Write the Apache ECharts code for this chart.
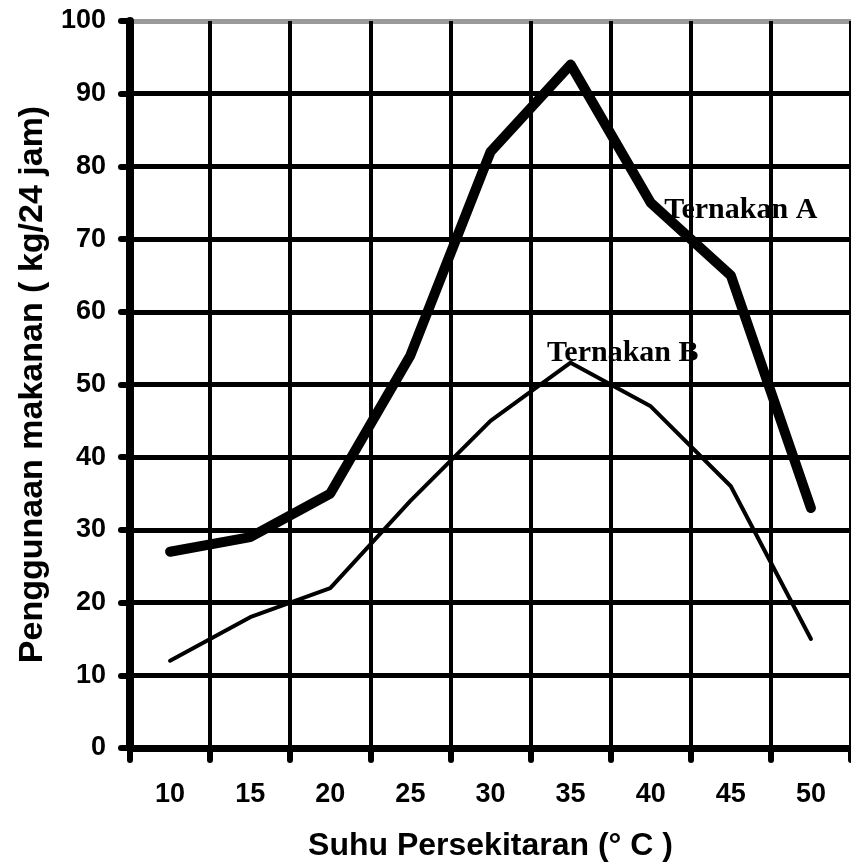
<!DOCTYPE html>
<html><head><meta charset="utf-8">
<script src="https://cdn.jsdelivr.net/npm/echarts@6/dist/echarts.min.js"></script>
<style>html,body{margin:0;padding:0;background:#fff}#c{width:851px;height:867px}</style>
</head><body><div id="c"></div>
<script>
const categories = ['10','15','20','25','30','35','40','45','50'];
const ternakanA = [27, 29, 35, 54, 82, 94, 75, 65, 33];
const ternakanB = [12, 18, 22, 34, 45, 53, 47, 36, 15];
const yTicks = [0,10,20,30,40,50,60,70,80,90,100];
const xTitle = 'Suhu Persekitaran (° C )';
const yTitle = 'Penggunaan makanan ( kg/24 jam)';
const labelA = 'Ternakan A', labelAIndex = 6;
const labelB = 'Ternakan B', labelBIndex = 5;

const labelFont = {fontFamily:'Liberation Serif', fontWeight:'bold', fontSize:30, color:'#000'};
function withLabel(arr, idx, text, lab){
  return arr.map((v,i)=> i===idx ? {value:v, label:Object.assign({show:true, formatter:text}, labelFont, lab)} : v);
}
const splitColors = yTicks.map(t => t===100 ? '#9a9a9a' : '#000');

const chart = echarts.init(document.getElementById('c'));
chart.setOption({
  animation:false,
  grid:{left:130, top:21, width:724, height:731},
  xAxis:{
    type:'category', data:categories, boundaryGap:true,
    axisLine:{lineStyle:{color:'#000', width:7}},
    axisTick:{show:true, length:12, lineStyle:{color:'#000', width:6, cap:'round'}},
    axisLabel:{margin:33, fontFamily:'Liberation Sans', fontWeight:'bold', fontSize:27, color:'#000'},
    splitLine:{show:true, lineStyle:{color:'#000', width:4}},
    name:xTitle, nameLocation:'middle', nameGap:82,
    nameTextStyle:{fontFamily:'Liberation Sans', fontWeight:'bold', fontSize:32, color:'#000'}
  },
  yAxis:{
    type:'value', min:0, max:100, interval:10,
    axisLine:{show:true, lineStyle:{color:'#000', width:8}},
    axisTick:{show:true, length:9, lineStyle:{color:'#000', width:6, cap:'round'}},
    axisLabel:{margin:24, fontFamily:'Liberation Sans', fontWeight:'bold', fontSize:27, color:'#000'},
    splitLine:{show:true, lineStyle:{color:splitColors, width:5}},
    name:yTitle, nameLocation:'middle', nameGap:80,
    nameTextStyle:{fontFamily:'Liberation Sans', fontWeight:'bold', fontSize:34, color:'#000'}
  },
  series:[
    {type:'line', data:withLabel(ternakanA, labelAIndex, labelA, {position:'right', distance:13, offset:[0,7]}),
     symbol:'circle', symbolSize:1, itemStyle:{color:'#000'},
     lineStyle:{color:'#000', width:10, cap:'round', join:'round'}, z:5},
    {type:'line', data:withLabel(ternakanB, labelBIndex, labelB, {position:'right', distance:0, offset:[-24,-9]}),
     symbol:'circle', symbolSize:1, itemStyle:{color:'#000'},
     lineStyle:{color:'#000', width:4, cap:'round', join:'round'}, z:5}
  ]
});
</script></body></html>
